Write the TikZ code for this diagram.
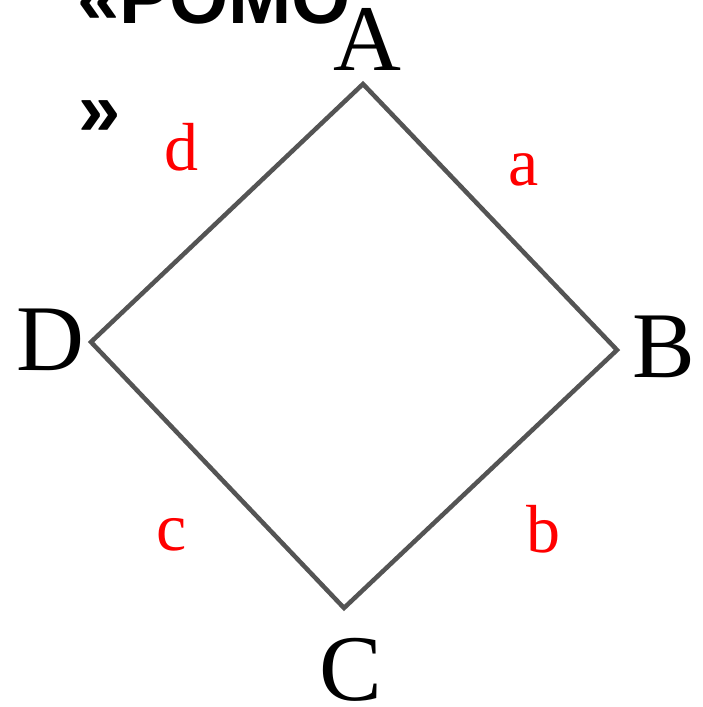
\documentclass[tikz,border=0pt]{standalone}
\usepackage{fontspec}
\setmainfont{Liberation Serif}
\newfontfamily\titlefont{Liberation Sans}
\begin{document}
\begin{tikzpicture}[x=1pt,y=-1pt,
  vlabel/.style={inner sep=0pt,anchor=base,font=\fontsize{94}{100}\selectfont},
  slabel/.style={inner sep=0pt,anchor=base,text=red,font=\fontsize{68}{72}\selectfont},
  edge/.style={draw=black!67,line width=4.5pt},
  titletext/.style={inner sep=0pt,anchor=base west,font=\titlefont\bfseries\fontsize{76}{103}\selectfont}]
\useasboundingbox (0,0) rectangle (702,707);
\clip (0,0) rectangle (702,707);
\fill[white] (0,0) rectangle (702,707);
\node[titletext] (title) at (77,23) {«РОМО};
\node[titletext] (title2) at (78,135) {»};
\coordinate (pA) at (363,84);
\coordinate (pB) at (617,350);
\coordinate (pC) at (344,608);
\coordinate (pD) at (91,342);
\draw[edge] (pA) -- (pB) -- (pC) -- (pD) -- cycle;
\node[vlabel] (lA) at (367,70) {A};
\node[vlabel] (lB) at (664,377) {B};
\node[vlabel] (lC) at (351,700) {C};
\node[vlabel] (lD) at (50,370) {D};
\node[slabel] (la) at (524,185) {a};
\node[slabel] (lb) at (543,552) {b};
\node[slabel] (lc) at (172,550) {c};
\node[slabel] (ld) at (181,170) {d};
\end{tikzpicture}
\end{document}
